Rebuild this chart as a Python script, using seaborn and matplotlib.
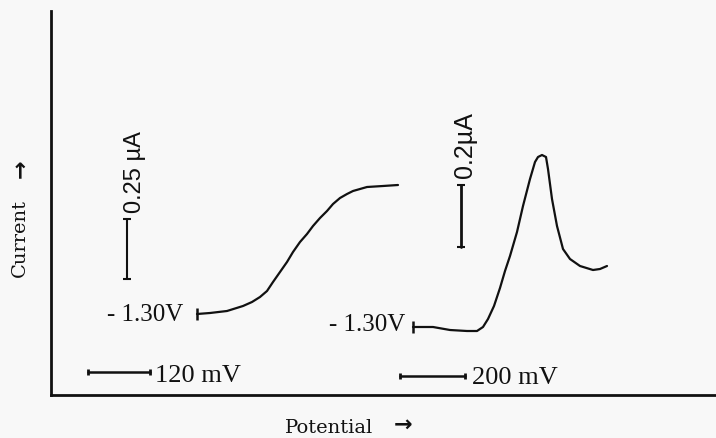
import pandas as pd
import matplotlib.pyplot as plt
import seaborn as sns

# polarogram (arbitrary units, origin at the axes corner)
dc_potential = [146, 159, 176, 192, 201, 209, 216, 222, 229, 236, 242, 249, 256, 262, 269, 276,
                282, 289, 296, 302, 309, 316, 332, 347]
dc_current = [81, 82, 84, 89, 93, 98, 104, 113, 123, 133, 143, 153, 161, 169, 177, 184,
              191, 197, 201, 204, 206, 208, 209, 210]

# differential pulse curve
dp_potential = [362, 382, 399, 416, 426, 432, 437, 443, 449, 454, 459, 466, 472, 479, 484, 487,
                491, 495, 497, 499, 501, 506, 512, 519, 529, 542, 549, 556]
dp_current = [68, 68, 65, 64, 64, 68, 76, 89, 107, 124, 139, 163, 189, 216, 233, 238,
              240, 238, 226, 211, 196, 169, 146, 136, 129, 125, 126, 129]

start_labels = ['- 1.30V', '- 1.30V']
current_bars = ['0.25 µA', '0.2µA']
potential_bars = ['120 mV', '200 mV']

BG = '#f8f8f8'
INK = '#111111'


def generate_plot():
    sns.set_style('white')
    plt.rcParams['font.family'] = ['Liberation Serif', 'DejaVu Serif']

    fig = plt.figure(figsize=(7.16, 4.39), dpi=100, facecolor=BG)
    ax = fig.add_axes([51 / 716, 43 / 439, 665 / 716, 384 / 439])
    ax.set_facecolor(BG)

    df1 = pd.DataFrame({'E': dc_potential, 'i': dc_current})
    df2 = pd.DataFrame({'E': dp_potential, 'i': dp_current})
    for df in (df1, df2):
        sns.lineplot(data=df, x='E', y='i', sort=False, color=INK, linewidth=1.6, ax=ax,
                     solid_joinstyle='round', solid_capstyle='round')

    # start ticks on the curves
    ax.plot(dc_potential[0], dc_current[0], marker='|', ms=9, mew=1.8, color=INK)
    ax.plot(dp_potential[0], dp_current[0], marker='|', ms=9, mew=1.8, color=INK)

    ax.text(132, 81, start_labels[0], ha='right', va='center', fontsize=18, color=INK)
    ax.text(354, 71, start_labels[1], ha='right', va='center', fontsize=18, color=INK)

    # vertical current scale bars
    ax.plot([76, 76], [116, 176], color=INK, lw=1.5, marker='_', ms=6, mew=1.5)
    ax.plot([410, 410], [148, 210], color=INK, lw=2, marker='_', ms=6, mew=1.5)
    ax.text(84, 183, current_bars[0], rotation=90, ha='center', va='bottom',
            fontsize=17, family=['Liberation Sans', 'DejaVu Sans'], color=INK)
    ax.text(414, 218, current_bars[1], rotation=90, ha='center', va='bottom',
            fontsize=18, family=['Liberation Sans', 'DejaVu Sans'], color=INK)

    # horizontal potential scale bars
    ax.plot([37, 99], [23, 23], color=INK, lw=1.8, marker='|', ms=5, mew=2)
    ax.plot([349, 414], [19, 19], color=INK, lw=1.8, marker='|', ms=5, mew=2)
    ax.text(104, 20, potential_bars[0], ha='left', va='center', fontsize=19, color=INK)
    ax.text(421, 18, potential_bars[1], ha='left', va='center', fontsize=19, color=INK)

    ax.set_xlim(0, 665)
    ax.set_ylim(0, 384)
    ax.set_xticks([])
    ax.set_yticks([])
    ax.set_xlabel('')
    ax.set_ylabel('')
    for side in ['top', 'right']:
        ax.spines[side].set_visible(False)
    for side in ['left', 'bottom']:
        ax.spines[side].set_color(INK)
        ax.spines[side].set_linewidth(2)

    # axis names with their arrows
    fig.text(20 / 716, 1 - 238 / 439, 'Current', rotation=90, ha='center', va='center',
             fontsize=14, family='DejaVu Serif', color=INK)
    fig.text(20 / 716, 1 - 169 / 439, '→', rotation=90, ha='center', va='center',
             fontsize=16, family='DejaVu Sans', fontweight='bold', color=INK)
    fig.text(329 / 716, 1 - 428 / 439, 'Potential', ha='center', va='center',
             fontsize=14, family='DejaVu Serif', color=INK)
    fig.text(403 / 716, 1 - 425 / 439, '→', ha='center', va='center',
             fontsize=16, family='DejaVu Sans', fontweight='bold', color=INK)

    fig.savefig('out.png', dpi=100, facecolor=BG)
    plt.close(fig)


if __name__ == '__main__':
    generate_plot()
